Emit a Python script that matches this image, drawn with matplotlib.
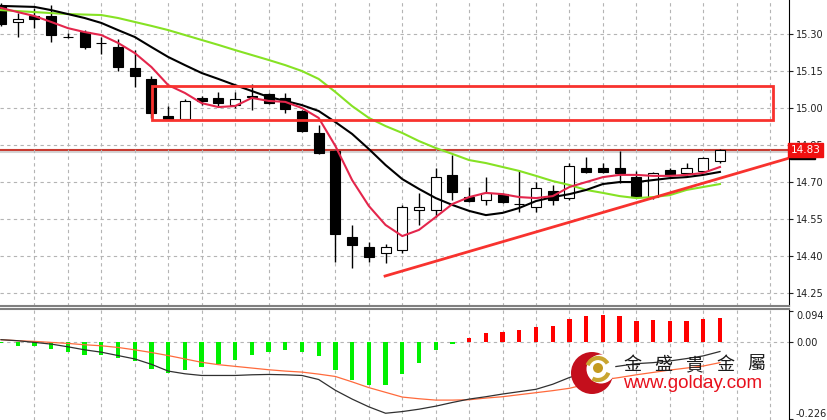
import matplotlib
matplotlib.use('Agg')
import matplotlib.pyplot as plt
import numpy as np
from matplotlib.patches import Rectangle, Circle, Arc

# candle data (open, high, low, close)
opens = [15.414, 15.349, 15.373, 15.373, 15.290, 15.308, 15.264, 15.247, 15.162, 15.118,
         14.968, 14.956, 15.041, 15.041, 15.012, 15.047, 15.057, 15.041, 14.988, 14.899,
         14.826, 14.477, 14.437, 14.412, 14.424, 14.587, 14.587, 14.729, 14.639, 14.627,
         14.652, 14.613, 14.599, 14.664, 14.635, 14.757, 14.757, 14.757, 14.720, 14.639,
         14.749, 14.737, 14.745, 14.785]
highs = [15.426, 15.385, 15.406, 15.418, 15.304, 15.316, 15.288, 15.280, 15.235, 15.130,
         15.008, 15.037, 15.049, 15.065, 15.065, 15.097, 15.061, 15.061, 14.992, 14.931,
         14.830, 14.526, 14.457, 14.449, 14.607, 14.656, 14.757, 14.810, 14.680, 14.720,
         14.656, 14.749, 14.700, 14.688, 14.777, 14.801, 14.777, 14.826, 14.745, 14.741,
         14.757, 14.777, 14.801, 14.835]
lows = [15.333, 15.288, 15.324, 15.268, 15.284, 15.239, 15.219, 15.150, 15.085, 14.960,
        14.951, 14.951, 15.012, 15.004, 15.000, 14.992, 15.016, 14.980, 14.903, 14.814,
        14.376, 14.352, 14.376, 14.372, 14.412, 14.526, 14.558, 14.627, 14.619, 14.607,
        14.615, 14.579, 14.579, 14.607, 14.627, 14.737, 14.737, 14.696, 14.635, 14.631,
        14.724, 14.729, 14.741, 14.777]
closes = [15.341, 15.361, 15.361, 15.296, 15.288, 15.247, 15.262, 15.166, 15.130, 14.980,
          14.956, 15.029, 15.029, 15.020, 15.037, 15.045, 15.020, 14.996, 14.907, 14.818,
          14.489, 14.445, 14.396, 14.437, 14.599, 14.599, 14.720, 14.660, 14.623, 14.656,
          14.619, 14.611, 14.676, 14.627, 14.765, 14.741, 14.741, 14.737, 14.639, 14.737,
          14.729, 14.757, 14.797, 14.828]

# moving averages
ma_red = [15.406, 15.389, 15.373, 15.349, 15.324, 15.308, 15.296, 15.264, 15.223, 15.166,
          15.093, 15.061, 15.020, 15.004, 15.008, 15.041, 15.029, 15.025, 15.000, 14.960,
          14.846, 14.708, 14.603, 14.526, 14.481, 14.506, 14.558, 14.611, 14.639, 14.656,
          14.651, 14.639, 14.635, 14.643, 14.680, 14.700, 14.720, 14.729, 14.729, 14.725,
          14.725, 14.729, 14.737, 14.761]
ma_black = [15.414, 15.412, 15.410, 15.397, 15.381, 15.365, 15.345, 15.316, 15.288, 15.247,
            15.207, 15.174, 15.142, 15.118, 15.093, 15.069, 15.045, 15.029, 15.012, 14.988,
            14.943, 14.895, 14.834, 14.769, 14.712, 14.672, 14.635, 14.607, 14.583, 14.566,
            14.575, 14.595, 14.623, 14.639, 14.651, 14.668, 14.692, 14.700, 14.700, 14.708,
            14.716, 14.720, 14.729, 14.741]
ma_green = [15.397, 15.393, 15.389, 15.385, 15.381, 15.379, 15.377, 15.365, 15.349, 15.333,
            15.316, 15.296, 15.276, 15.256, 15.235, 15.215, 15.195, 15.174, 15.150, 15.118,
            15.065, 15.008, 14.960, 14.927, 14.899, 14.866, 14.838, 14.814, 14.789, 14.777,
            14.761, 14.745, 14.725, 14.704, 14.688, 14.668, 14.656, 14.643, 14.635, 14.639,
            14.647, 14.668, 14.680, 14.692]

# indicator panel
hist = [-0.002, -0.010, -0.012, -0.021, -0.029, -0.036, -0.036, -0.046, -0.056, -0.078,
        -0.091, -0.083, -0.073, -0.064, -0.052, -0.036, -0.029, -0.022, -0.029, -0.041,
        -0.083, -0.111, -0.127, -0.125, -0.093, -0.062, -0.024, -0.004, 0.012, 0.028,
        0.031, 0.036, 0.047, 0.049, 0.069, 0.077, 0.081, 0.078, 0.064, 0.066,
        0.064, 0.064, 0.069, 0.072]
line_black = [0.008, 0.005, 0.000, -0.005, -0.013, -0.022, -0.029, -0.039, -0.049, -0.065,
              -0.085, -0.093, -0.098, -0.098, -0.098, -0.096, -0.095, -0.096, -0.098, -0.110,
              -0.142, -0.168, -0.191, -0.210, -0.205, -0.198, -0.189, -0.178, -0.168, -0.161,
              -0.153, -0.146, -0.139, -0.124, -0.104, -0.089, -0.077, -0.070, -0.063, -0.060,
              -0.055, -0.048, -0.040, -0.027]
line_orange = [0.008, 0.005, 0.003, 0.000, -0.003, -0.007, -0.010, -0.015, -0.022, -0.030,
               -0.039, -0.049, -0.059, -0.066, -0.071, -0.076, -0.081, -0.085, -0.088, -0.094,
               -0.101, -0.117, -0.134, -0.148, -0.162, -0.167, -0.171, -0.171, -0.170, -0.165,
               -0.161, -0.155, -0.149, -0.143, -0.136, -0.124, -0.111, -0.104, -0.096, -0.089,
               -0.082, -0.076, -0.070, -0.060]

price_ticks = [14.25, 14.40, 14.55, 14.70, 14.85, 15.00, 15.15, 15.30]
last_price = 14.83
bid_price = 14.822
box_x = [9.03, 46.17]
box_y = [14.951, 15.089]
trend_x = [22.97, 47.13]
trend_y = [14.319, 14.797]

fig = plt.figure(figsize=(8.27, 4.2), dpi=100)
ax = fig.add_axes([0, 1 - 306 / 420, 789 / 827, 306 / 420])
ax2 = fig.add_axes([0, 0, 789 / 827, 111 / 420])

x = np.arange(len(opens))
o = np.array(opens)
c = np.array(closes)

# grid
for a in (ax, ax2):
    a.set_xlim(-0.06, 47.13)
    a.set_xticks(np.arange(2, 48, 2))
    a.tick_params(axis='x', length=0, labelbottom=False)
    a.grid(axis='x', ls=(0, (3, 3)), color='#b4b4b4', lw=0.8)
    a.spines['left'].set_visible(False)
    a.spines['right'].set_color('black')
    a.yaxis.tick_right()
    a.tick_params(axis='y', length=3, labelsize=7, pad=2, colors='#202020')

ax.set_ylim(14.1975, 15.438)
ax.set_yticks(price_ticks)
ax.set_yticklabels(['%.2f' % v for v in price_ticks])
ax.grid(axis='y', ls=(0, (3, 3)), color='#b4b4b4', lw=0.8)
ax.spines['top'].set_visible(False)
ax.spines['bottom'].set_color('#808080')
ax.spines['bottom'].set_linewidth(1.5)

# price lines
ax.axhline(bid_price, color='#d4d4d4', lw=1.5, zorder=1)
ax.axhline(last_price, color='#c83c32', lw=1.5, zorder=1)

# candles
ax.vlines(x, lows, highs, color='black', lw=1, zorder=2)
body_col = ['white' if cc >= oo else 'black' for oo, cc in zip(o, c)]
ax.bar(x, np.abs(c - o), bottom=np.minimum(o, c), width=0.6, color=body_col,
       edgecolor='black', lw=0.8, zorder=3)

# moving averages
ax.plot(x, ma_green, color='#86e224', lw=1.5, zorder=4)
ax.plot(x, ma_black, color='black', lw=1.5, zorder=4)
ax.plot(x, ma_red, color='#e4264c', lw=1.5, zorder=4)

# drawn objects
ax.add_patch(Rectangle((box_x[0], box_y[0]), box_x[1] - box_x[0], box_y[1] - box_y[0],
                       fill=False, ec='#f8322e', lw=2, zorder=5))
ax.plot(trend_x, trend_y, color='#f8322e', lw=2, zorder=5)

# price tags on the scale (they sit over the 14.85 label, as on the terminal)
ax.text(1.002, bid_price - 0.008, '14.82', transform=ax.get_yaxis_transform(),
        color='white', fontsize=6, va='center', ha='left', clip_on=False, zorder=6,
        bbox=dict(boxstyle='square,pad=0.1', fc='black', ec='black'))
ax.text(1.002, last_price, '14.83', transform=ax.get_yaxis_transform(),
        color='white', fontsize=7.5, va='center', ha='left', clip_on=False, zorder=7,
        bbox=dict(boxstyle='square,pad=0.2', fc='#f01010', ec='#f01010'))

# indicator window
ax2.set_ylim(-0.230, 0.099)
ax2.set_yticks([0.094, 0.0, -0.226])
ax2.set_yticklabels(['0.094', '0.00', '-0.226'])
lbls = ax2.get_yticklabels()
lbls[0].set_va('top')
lbls[2].set_va('bottom')
ax2.spines['top'].set_color('#808080')
ax2.spines['top'].set_linewidth(1.5)
ax2.spines['bottom'].set_visible(False)
ax2.axhline(0, ls=(0, (3, 3)), color='#b4b4b4', lw=0.8, zorder=0)
hist_col = ['#ff0000' if v > 0 else '#00f000' for v in hist]
ax2.bar(x, hist, width=0.26, color=hist_col, zorder=2)
ax2.plot(x, line_orange, color='#ff6a3c', lw=0.9, zorder=3)
ax2.plot(x, line_black, color='#303030', lw=0.9, zorder=3)

# watermark logo
ov = fig.add_axes([0, 0, 1, 1], zorder=10)
ov.set_xlim(0, 827)
ov.set_ylim(420, 0)
ov.axis('off')
ov.patch.set_alpha(0)
ov.add_patch(Circle((592, 373), 21, fc='#c40f1c', ec='none'))
ov.add_patch(Circle((601, 369), 14.5, fc='white', ec='none'))
ov.add_patch(Arc((598, 369), 22, 22, theta1=200, theta2=330, color='#c9a530', lw=3))
ov.add_patch(Arc((598, 369), 22, 22, theta1=20, theta2=120, color='#c9a530', lw=3))
ov.add_patch(Circle((598, 368), 5, fc='#c49a20', ec='none'))
for k, ch in enumerate('金盛貴金屬'):
    ov.text(632 + k * 31, 365, ch, fontsize=13, family=['Noto Sans CJK TC', 'DejaVu Sans'],
            color='#1a1a1a', ha='center', va='center')
ov.text(623, 384, 'www.golday.com', fontsize=13.5, family='Liberation Sans',
        color='#e8101c', ha='left', va='center')

fig.savefig('out.png', dpi=100)
